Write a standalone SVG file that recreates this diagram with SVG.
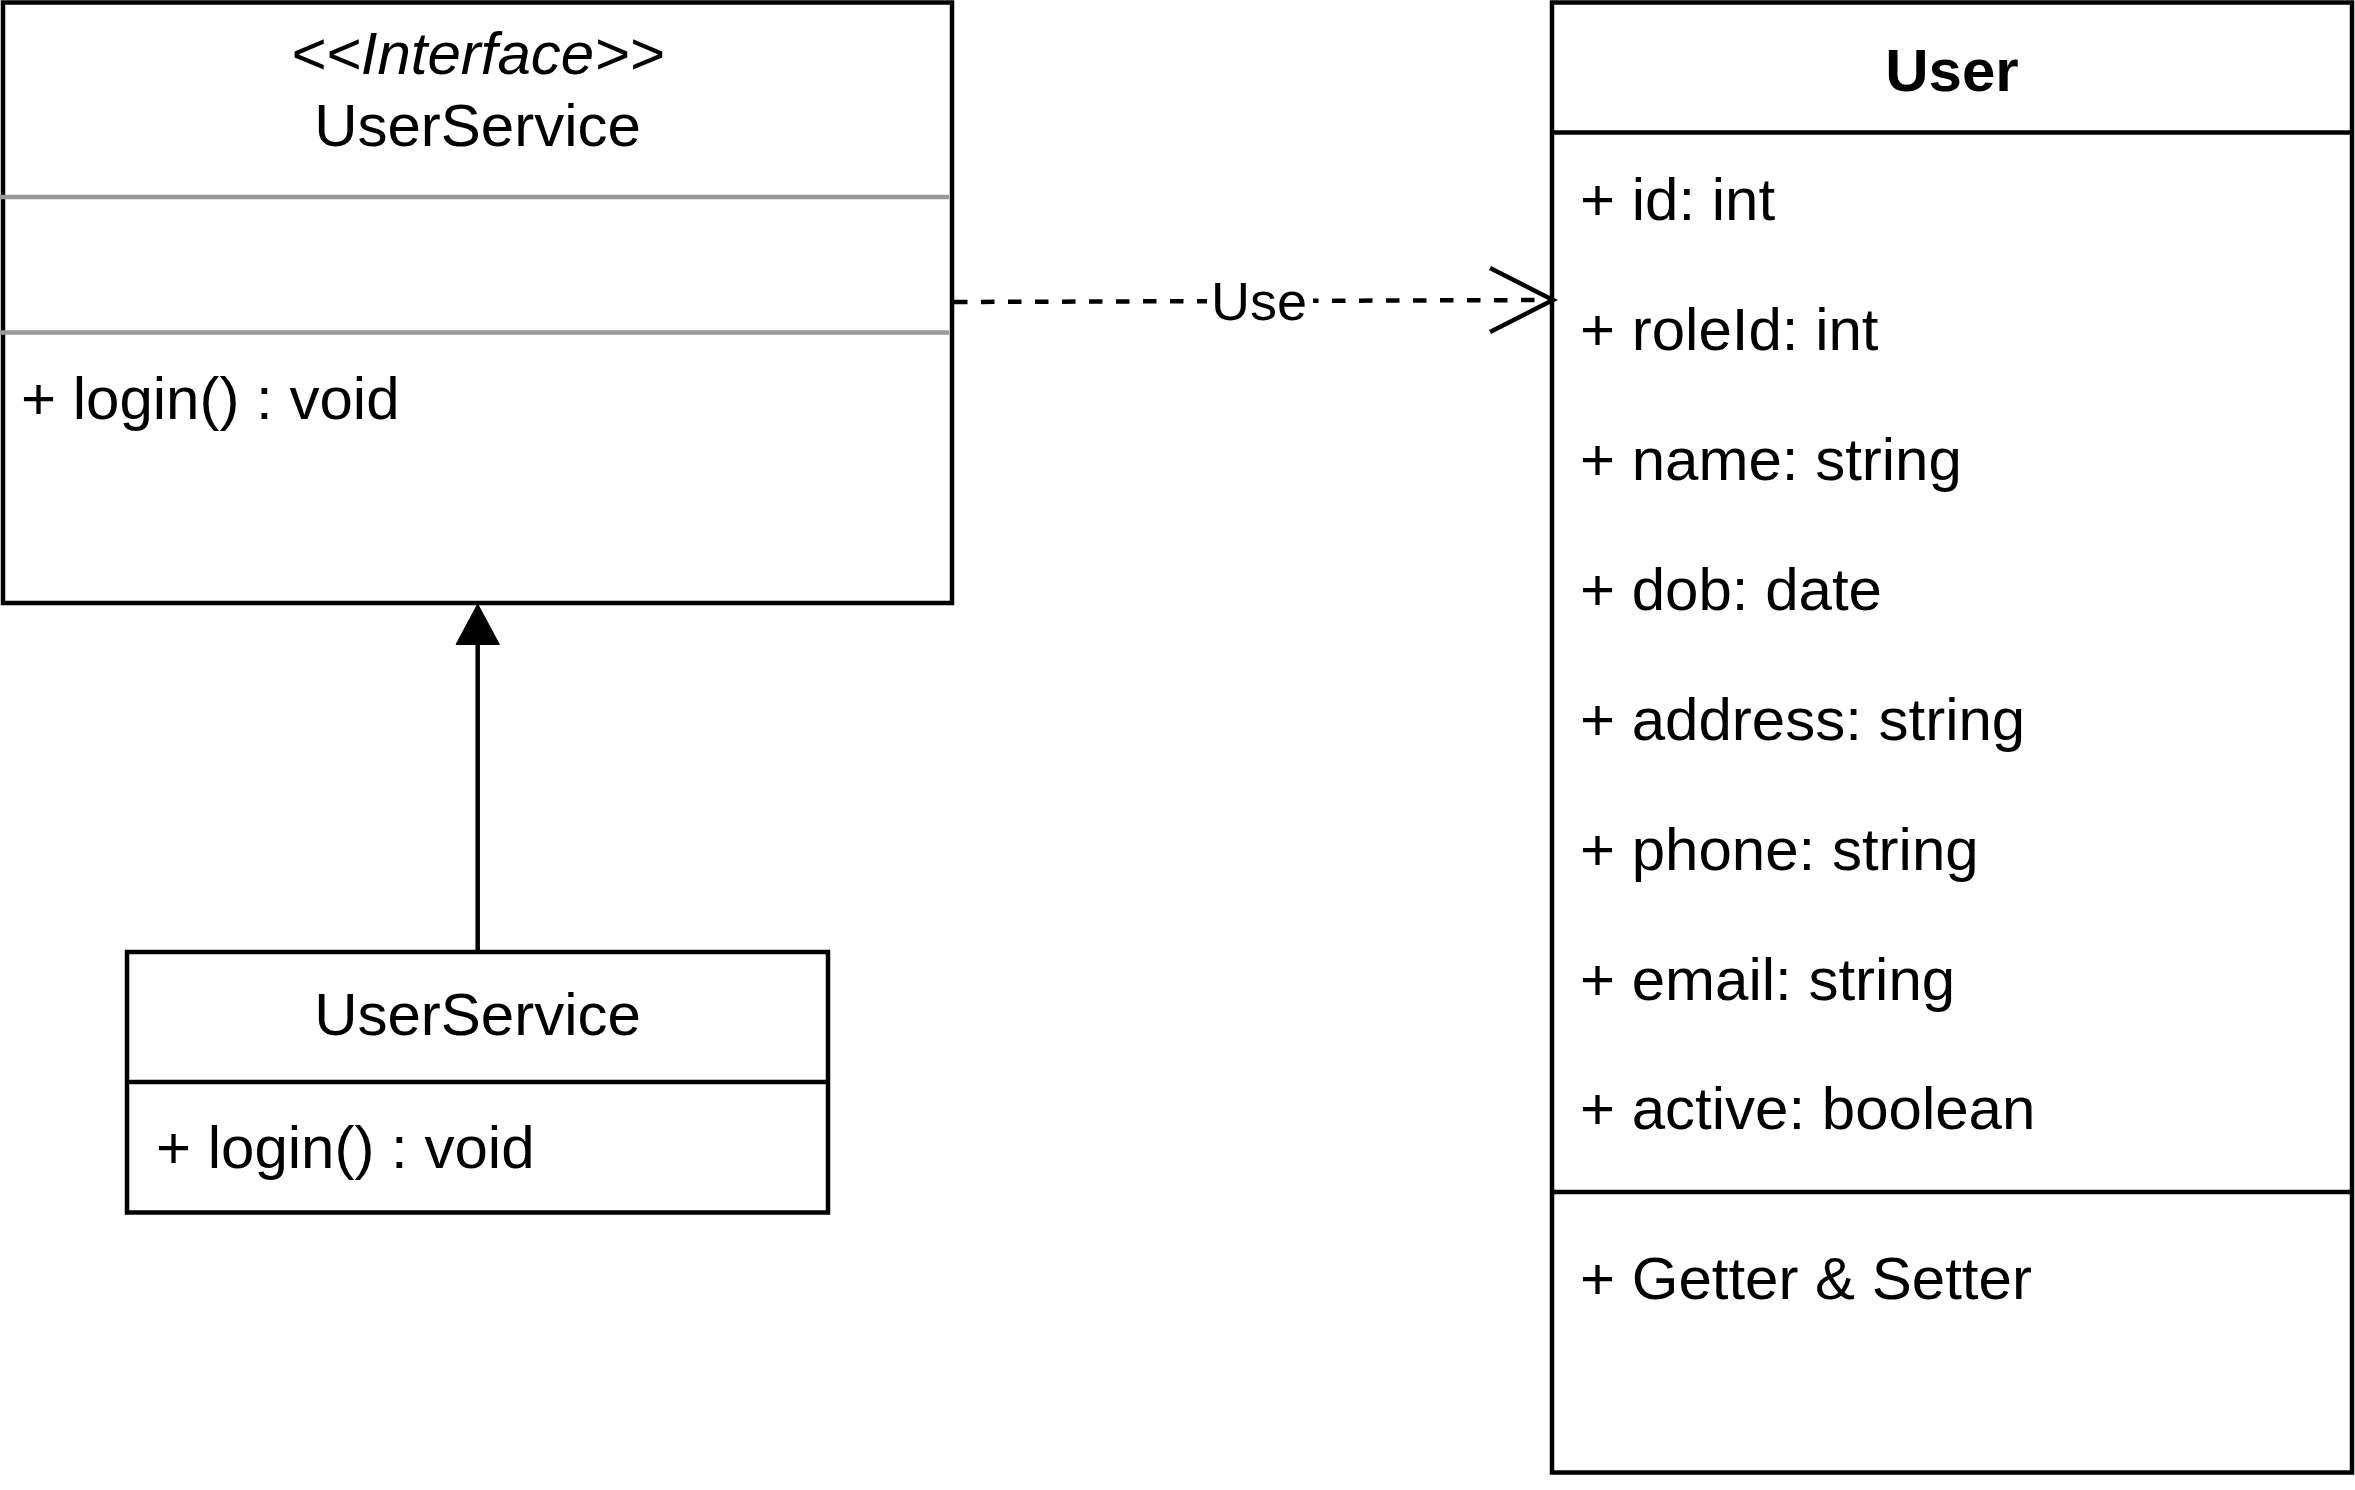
<svg xmlns="http://www.w3.org/2000/svg" width="2355" height="1490" viewBox="0 0 2355 1490">
  <style>
    .box { fill: #ffffff; stroke: #000000; stroke-width: 4.5; }
    .div { stroke: #000000; stroke-width: 4.5; fill: none; }
    .gray { stroke: #999999; stroke-width: 4.5; fill: none; }
    .t { font-family: "Liberation Sans", Arial, sans-serif; font-size: 60px; fill: #000000; }
    .c { text-anchor: middle; }
    .edge { stroke: #000000; stroke-width: 4.5; fill: none; }
    .dash { stroke-dasharray: 13.5 13.5; }
    .lbl { font-family: "Liberation Sans", Arial, sans-serif; font-size: 54px; fill: #000000; text-anchor: middle; }
  </style>
  <rect width="2355" height="1490" fill="#ffffff"/>

  <g id="node-interface-userservice">
    <rect class="box" x="3" y="2.5" width="949" height="600.5"/>
    <line class="gray" x1="0" y1="197" x2="949" y2="197"/>
    <line class="gray" x1="0" y1="332.5" x2="949" y2="332.5"/>
    <text class="t c" x="477.5" y="74" font-style="italic">&lt;&lt;Interface&gt;&gt;</text>
    <text class="t c" x="477.5" y="146">UserService</text>
    <text class="t" x="21" y="419">+ login() : void</text>
  </g>

  <g id="node-userservice">
    <rect class="box" x="127" y="952" width="701" height="260.5"/>
    <line class="div" x1="127" y1="1082" x2="828" y2="1082"/>
    <text class="t c" x="477.5" y="1035">UserService</text>
    <text class="t" x="156" y="1168">+ login() : void</text>
  </g>

  <g id="node-user">
    <rect class="box" x="1552" y="2.5" width="800" height="1470"/>
    <line class="div" x1="1552" y1="132.5" x2="2352" y2="132.5"/>
    <line class="div" x1="1552" y1="1192" x2="2352" y2="1192"/>
    <text class="t c" x="1952" y="90.5" font-weight="bold">User</text>
    <text class="t" x="1580" y="220">+ id: int</text>
    <text class="t" x="1580" y="350">+ roleId: int</text>
    <text class="t" x="1580" y="480">+ name: string</text>
    <text class="t" x="1580" y="610">+ dob: date</text>
    <text class="t" x="1580" y="740">+ address: string</text>
    <text class="t" x="1580" y="870">+ phone: string</text>
    <text class="t" x="1580" y="1000">+ email: string</text>
    <text class="t" x="1580" y="1129">+ active: boolean</text>
    <text class="t" x="1580" y="1299">+ Getter &amp; Setter</text>
  </g>

  <g id="connectors">
    <g id="edge-realization">
      <line class="edge" x1="477.7" y1="952" x2="477.7" y2="642"/>
      <polygon points="477.7,604 456,644.5 499.4,644.5" fill="#000000" stroke="#000000" stroke-width="1"/>
    </g>
    <g id="edge-use">
      <line class="edge dash" x1="954" y1="302" x2="1550" y2="300"/>
      <polyline class="edge" points="1490,268 1553,300 1490,332" stroke-linejoin="miter" stroke-miterlimit="10"/>
      <rect x="1207" y="278" width="106" height="46" fill="#ffffff"/>
      <text class="lbl" x="1259" y="320">Use</text>
    </g>
  </g>
</svg>
